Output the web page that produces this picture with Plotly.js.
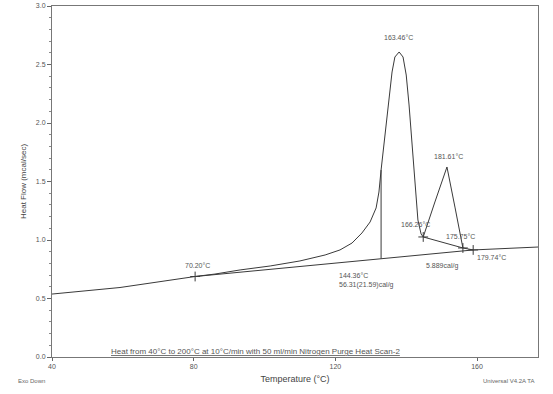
<!DOCTYPE html>
<html>
<head>
<meta charset="utf-8">
<script src="https://cdn.plot.ly/plotly-3.0.1.min.js"></script>
<style>html,body{margin:0;padding:0;background:#fff;}#chart{width:553px;height:394px;}</style>
</head>
<body>
<div id="chart"></div>
<script>
// DSC heat-flow curve
const temperature = [40.0, 59.2, 80.4, 86.0, 93.1, 101.6, 110.0, 117.1, 121.3, 124.7, 127.5, 129.8, 131.5, 132.3, 132.9, 133.5, 134.3, 135.2, 136.0, 136.8, 138.0, 139.1, 140.0, 140.8, 141.6, 142.5, 143.3, 144.2, 144.8, 148.1, 151.5, 153.8, 156.0, 158.9, 166.5, 177.2];
const heatFlow = [0.538, 0.594, 0.688, 0.709, 0.744, 0.778, 0.821, 0.872, 0.915, 0.974, 1.060, 1.154, 1.274, 1.410, 1.598, 1.769, 1.983, 2.239, 2.436, 2.564, 2.607, 2.564, 2.410, 2.154, 1.812, 1.470, 1.171, 1.051, 1.026, 1.325, 1.624, 1.274, 0.932, 0.915, 0.923, 0.940];

// integration baseline of the main peak
const baselineX = [80.4, 158.9];
const baselineY = [0.688, 0.915];
// partial-area divider
const dividerX = [132.9, 132.9];
const dividerY = [0.84, 1.598];
// tie line of the second peak
const tieX = [144.8, 156.0];
const tieY = [1.026, 0.932];
// analysis markers
const markX = [80.4, 144.8, 156.0, 158.9];
const markY = [0.688, 1.026, 0.932, 0.915];

// labels
const labelText = ["163.46°C", "181.61°C", "166.26°C", "175.75°C", "179.74°C", "5.889cal/g", "70.20°C", "144.36°C<br>56.31(21.59)cal/g"];
const labelX = [137.7, 151.8, 142.5, 155.2, 159.4, 150.1, 81.0, 120.5];
const labelY = [2.73, 1.71, 1.13, 1.03, 0.85, 0.78, 0.785, 0.655];
const labelAnchor = ["center", "center", "center", "center", "left", "center", "center", "left"];

const yTicks = [0.0, 0.5, 1.0, 1.5, 2.0, 2.5, 3.0];
const xTicks = [40, 80, 120, 160];

const lineCol = '#3a3a3a';
const font = {family: 'Liberation Sans, Arial, sans-serif', size: 7, color: '#555'};

const traces = [
  {x: temperature, y: heatFlow, mode: 'lines', line: {color: lineCol, width: 1}, hoverinfo: 'skip'},
  {x: baselineX, y: baselineY, mode: 'lines', line: {color: lineCol, width: 1}, hoverinfo: 'skip'},
  {x: dividerX, y: dividerY, mode: 'lines', line: {color: lineCol, width: 1}, hoverinfo: 'skip'},
  {x: tieX, y: tieY, mode: 'lines', line: {color: lineCol, width: 1}, hoverinfo: 'skip'},
  {x: markX, y: markY, mode: 'markers', marker: {symbol: 'cross-thin', size: 7, line: {color: lineCol, width: 1}}, hoverinfo: 'skip'}
];

const annotations = labelText.map((t, i) => ({
  x: labelX[i], y: labelY[i], xref: 'x', yref: 'y', text: t, showarrow: false,
  xanchor: labelAnchor[i], align: 'left', font: font
}));

annotations.push(
  {x: 0.418, y: 0.017, xref: 'paper', yref: 'paper', text: '<u>Heat from 40°C to 200°C at 10°C/min with 50 ml/min Nitrogen Purge Heat Scan-2</u>', showarrow: false, xanchor: 'center', yanchor: 'middle', font: {family: font.family, size: 8, color: '#555'}},
  {x: 0.882, y: -0.055, xref: 'paper', yref: 'paper', text: 'Universal V4.2A TA', showarrow: false, xanchor: 'left', yanchor: 'top', font: {family: font.family, size: 6, color: '#666'}},
  {x: -0.075, y: -0.055, xref: 'paper', yref: 'paper', text: 'Exo Down', showarrow: false, xanchor: 'left', yanchor: 'top', font: {family: font.family, size: 6, color: '#666'}}
);

const layout = {
  width: 553, height: 394,
  margin: {l: 52, r: 15, t: 6, b: 37},
  paper_bgcolor: '#fff', plot_bgcolor: '#fff',
  showlegend: false,
  font: font,
  xaxis: {
    range: [40, 177.2], tickvals: xTicks, ticktext: xTicks.map(String),
    ticks: 'outside', ticklen: 3, tickcolor: '#666',
    showline: true, mirror: true, linecolor: '#777', linewidth: 1,
    showgrid: false, zeroline: false,
    tickfont: {family: font.family, size: 7, color: '#555'},
    title: {text: 'Temperature (°C)', font: {family: font.family, size: 9, color: '#444'}, standoff: 6}
  },
  yaxis: {
    range: [0, 3], tickvals: yTicks, tickformat: '.1f',
    ticks: 'outside', ticklen: 4, tickcolor: '#666',
    minor: {dtick: 0.1, ticks: 'outside', ticklen: 2, tickcolor: '#888'},
    showline: true, mirror: true, linecolor: '#777', linewidth: 1,
    showgrid: false, zeroline: false,
    tickfont: {family: font.family, size: 7, color: '#555'},
    title: {text: 'Heat Flow (mcal/sec)', font: {family: font.family, size: 8, color: '#444'}, standoff: 8}
  },
  annotations: annotations
};

Plotly.newPlot('chart', traces, layout, {staticPlot: true, displayModeBar: false});
</script>
</body>
</html>
